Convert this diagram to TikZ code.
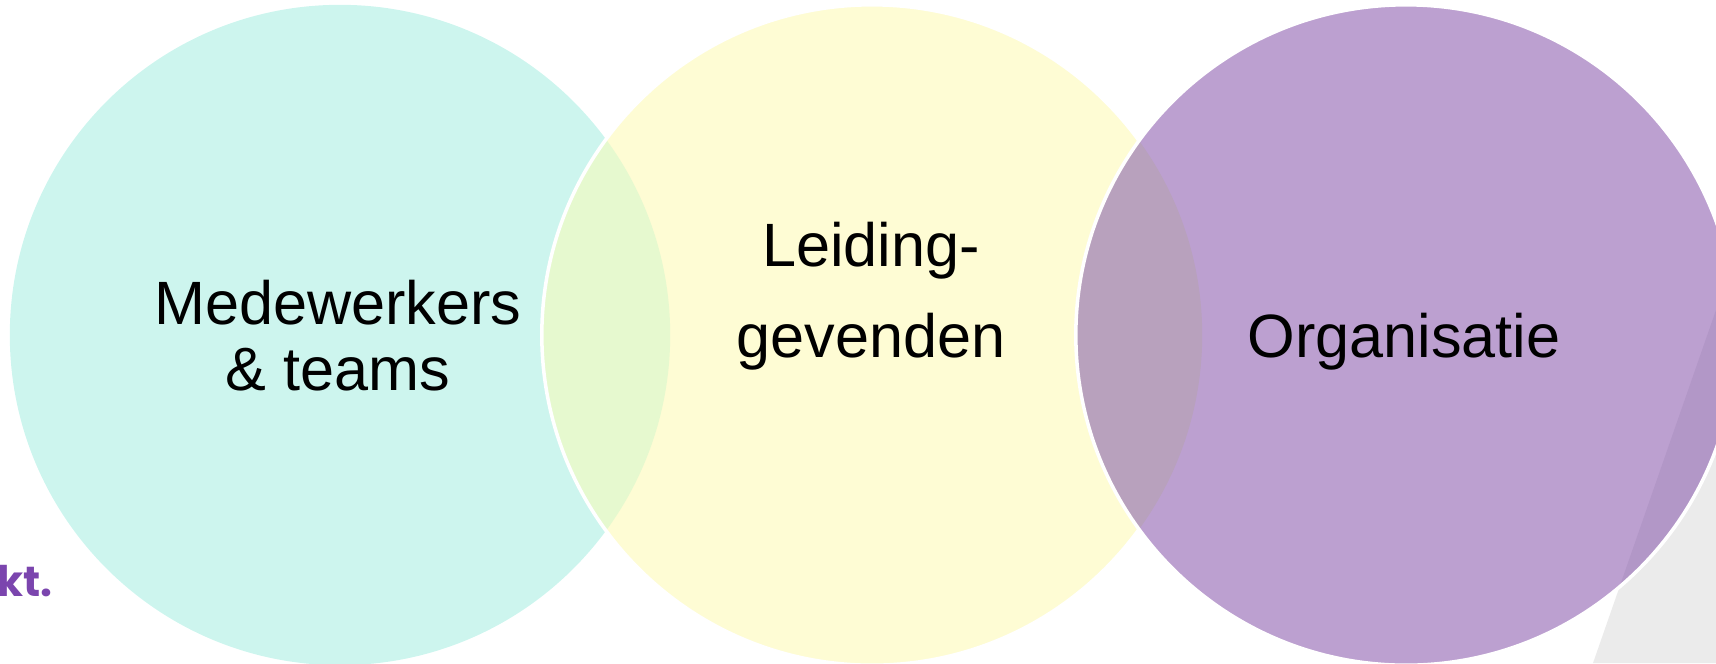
\documentclass[tikz,border=0pt]{standalone}
\usepackage{fontspec}
\setmainfont{Liberation Sans}
\newfontfamily\logofont{Poppins}

\definecolor{teal}{HTML}{CDF5EE}
\definecolor{geel}{HTML}{FEFCD4}
\definecolor{lensgroen}{HTML}{E6F9CF}
\definecolor{paars}{HTML}{BCA0D0}
\definecolor{lensmauve}{HTML}{B8A1BD}
\definecolor{grijs}{HTML}{EBEBEB}
\definecolor{paarsgrijs}{HTML}{B297C7}
\definecolor{logopaars}{HTML}{7B45AE}

\begin{document}
\begin{tikzpicture}[x=0.01cm, y=-0.01cm,
		label/.style={font=\fontsize{17.4}{18.5}\selectfont, align=center, inner sep=0pt, anchor=base},
		rand/.style={draw=white, line width=1pt}]
		\useasboundingbox (0,0) rectangle (1716,663);
		\clip (0,0) rectangle (1716,663);

		\coordinate (mw) at (340,335);
		\coordinate (lg) at (872,335);
		\coordinate (org) at (1406,335);

		% achtergrondvlak rechtsonder
		\fill[grijs] (1593,663) -- (1716,310) -- (1716,663) -- cycle;

		\fill[teal] (mw) circle [radius=3.3cm];
		\fill[geel] (lg) circle [radius=3.3cm];
		\begin{scope}
			\clip (mw) circle [radius=3.3cm];
			\fill[lensgroen] (lg) circle [radius=3.3cm];
		\end{scope}
		\draw[rand] (lg) circle [radius=3.3cm];

		\fill[paars] (org) circle [radius=3.3cm];
		\begin{scope}
			\clip (lg) circle [radius=3.3cm];
			\fill[lensmauve] (org) circle [radius=3.3cm];
		\end{scope}
		\begin{scope}
			\clip (1593,663) -- (1716,310) -- (1716,663) -- cycle;
			\fill[paarsgrijs] (org) circle [radius=3.3cm];
		\end{scope}
		\draw[rand] (org) circle [radius=3.3cm];

		\node[label] (medew) at (338,390) {Medewerkers\\\& teams};
		\node[label, font=\fontsize{17.4}{25.8}\selectfont] (leiding) at (871,357) {Leiding-\\gevenden};
		\node[label] (organ) at (1404,357) {Organisatie};

		\node[font=\logofont\bfseries\fontsize{12}{13}\selectfont, text=logopaars, inner sep=0pt, anchor=base east] (logo) at (53,596) {rkt.};
\end{tikzpicture}
\end{document}
